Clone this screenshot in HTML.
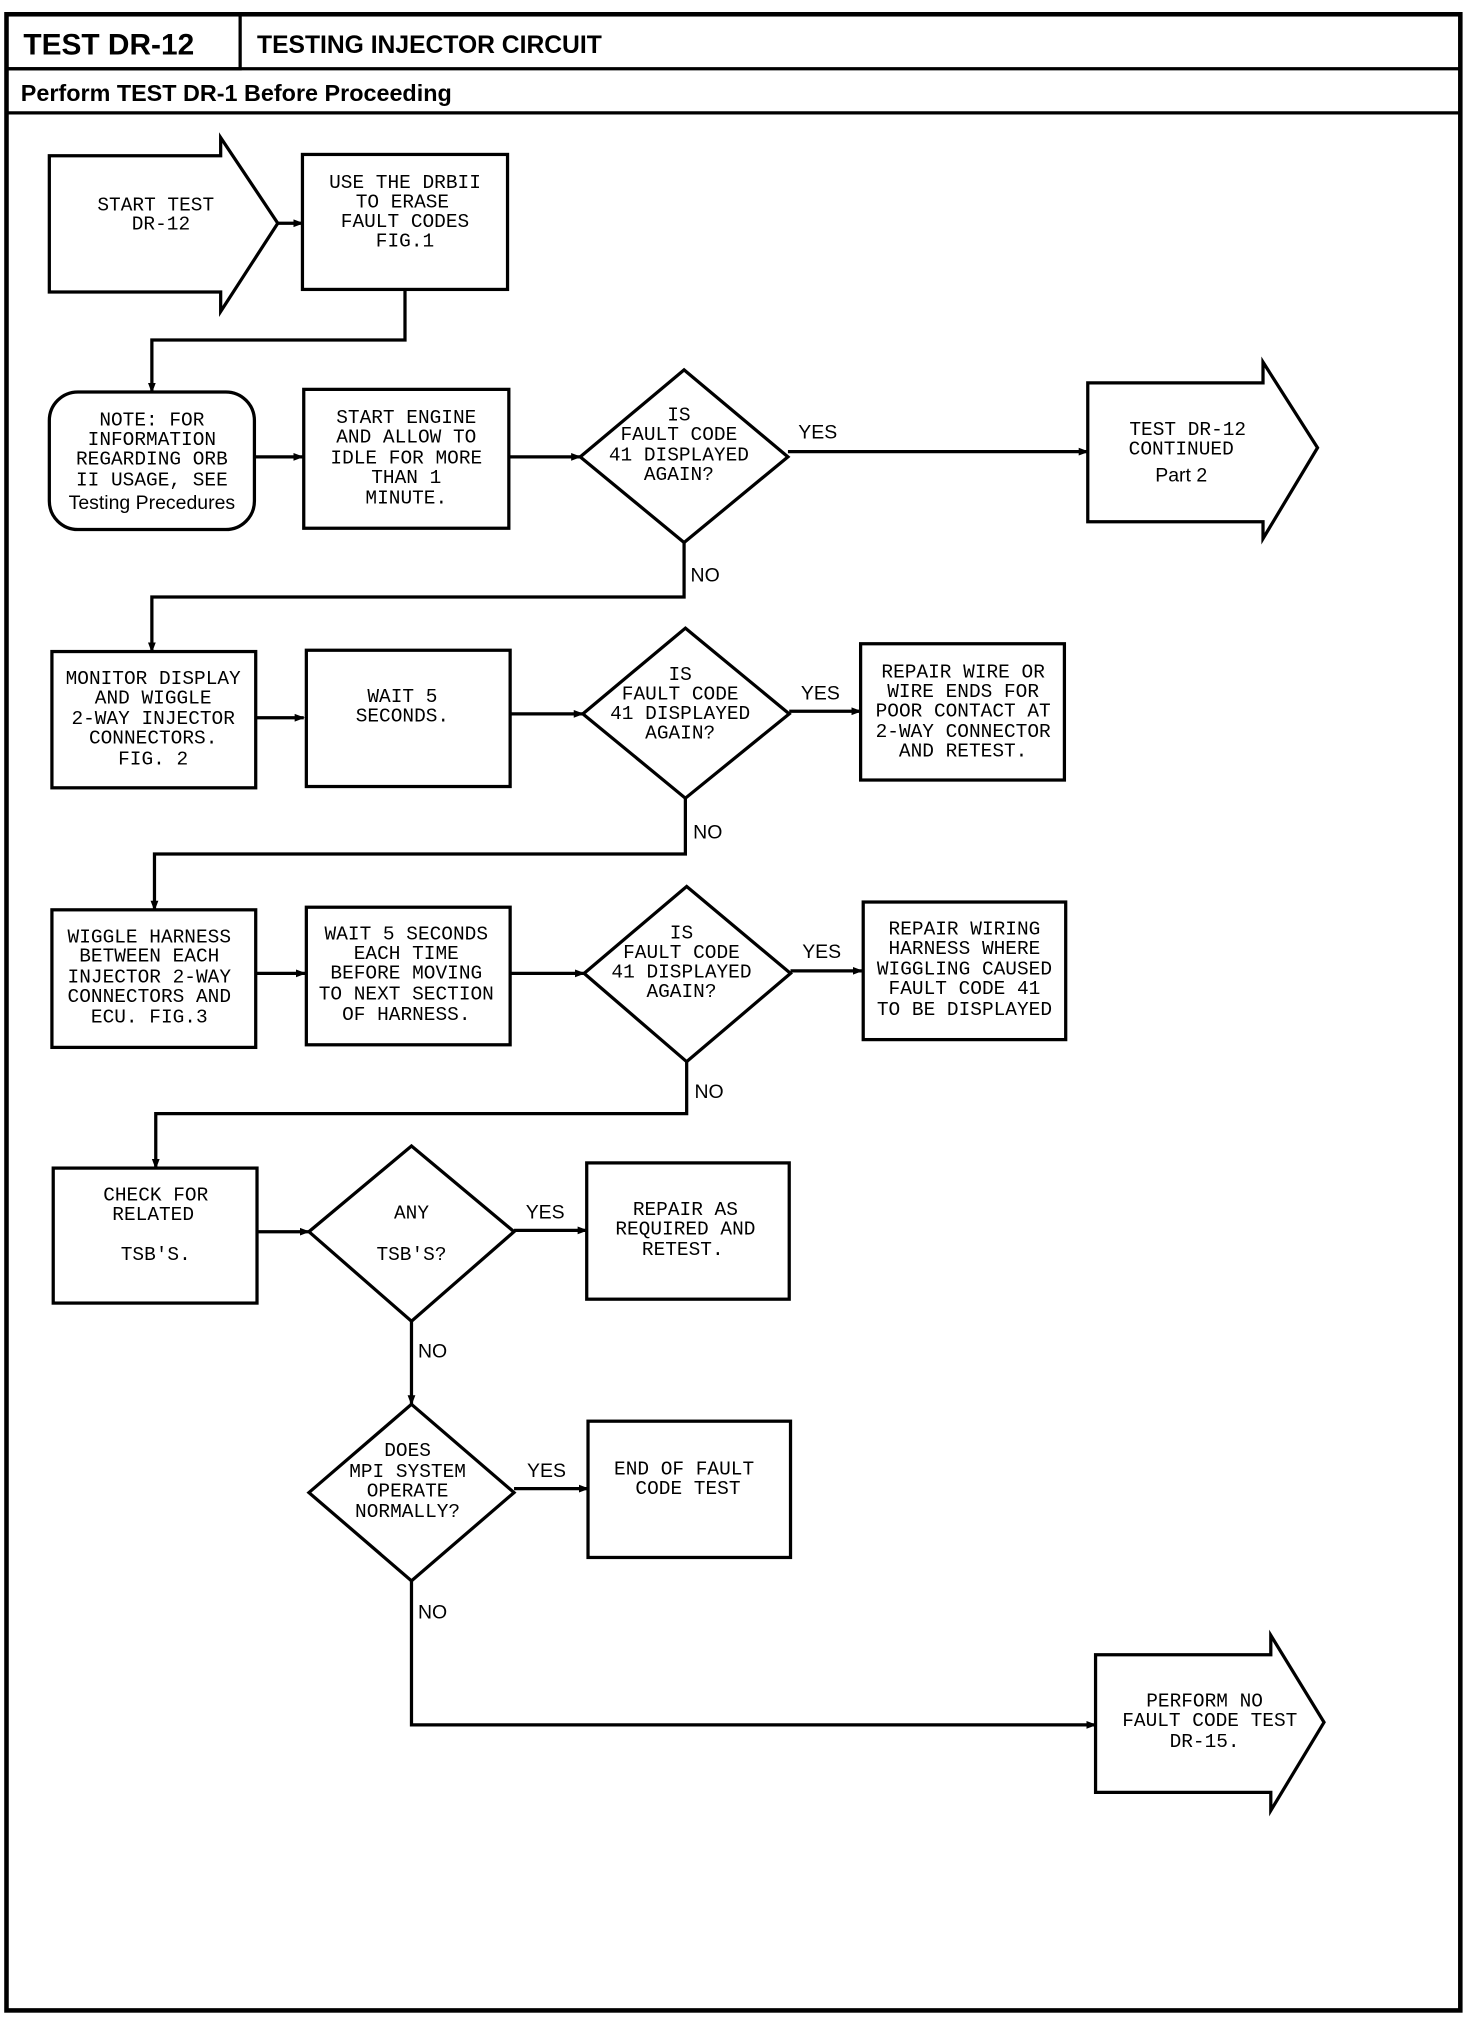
<!DOCTYPE html>
<html><head><meta charset="utf-8"><style>
html,body{margin:0;padding:0;background:#fff;}
svg{display:block;}
.m{font-family:"Liberation Mono",monospace;font-size:15px;text-anchor:middle;fill:#000;}
.s{font-family:"Liberation Sans",sans-serif;font-size:15px;text-anchor:middle;fill:#000;}
.l{font-family:"Liberation Sans",sans-serif;font-size:15px;fill:#000;}
.b{font-family:"Liberation Sans",sans-serif;font-weight:bold;fill:#000;}
</style></head><body>
<svg width="1472" height="2026" viewBox="0 0 1134 1561" preserveAspectRatio="none" xmlns="http://www.w3.org/2000/svg">
<defs><marker id="a" markerWidth="8" markerHeight="8" refX="7" refY="4" orient="auto" markerUnits="userSpaceOnUse"><path d="M0,1 L8,4 L0,7 z" fill="#000"/></marker></defs>
<g fill="none" stroke="#000" stroke-width="2.5">
<rect x="5" y="11" width="1120" height="1538" stroke-width="3.5"/>
<rect x="5" y="11" width="180" height="42"/>
<line x1="5" y1="53" x2="1125" y2="53"/>
<line x1="5" y1="87" x2="1125" y2="87"/>
<polygon points="38,120 170,120 170,106 214,172 170,240 170,225 38,225"/>
<rect x="233" y="119" width="158" height="104"/>
<line x1="214" y1="172" x2="233" y2="172" marker-end="url(#a)"/>
<polyline points="312,223 312,262 117,262 117,302" marker-end="url(#a)"/>
<rect x="38" y="302" width="158" height="106" rx="22"/>
<line x1="196" y1="352" x2="233" y2="352" marker-end="url(#a)"/>
<rect x="234" y="300" width="158" height="107"/>
<line x1="392" y1="352" x2="447" y2="352" marker-end="url(#a)"/>
<polygon points="527,285 607,352 527,418 447,352"/>
<line x1="607" y1="348" x2="838" y2="348" marker-end="url(#a)"/>
<polygon points="838,295 973,295 973,279 1015,345 973,415 973,402 838,402"/>
<polyline points="527,418 527,460 117,460 117,502" marker-end="url(#a)"/>
<rect x="40" y="502" width="157" height="105"/>
<line x1="197" y1="553" x2="234" y2="553" marker-end="url(#a)"/>
<rect x="236" y="501" width="157" height="105"/>
<line x1="393" y1="550" x2="449" y2="550" marker-end="url(#a)"/>
<polygon points="528,484 608,550 528,615 449,550"/>
<line x1="608" y1="548" x2="663" y2="548" marker-end="url(#a)"/>
<rect x="663" y="496" width="157" height="105"/>
<polyline points="528,615 528,658 119,658 119,701" marker-end="url(#a)"/>
<rect x="40" y="701" width="157" height="106"/>
<line x1="197" y1="750" x2="235" y2="750" marker-end="url(#a)"/>
<rect x="236" y="699" width="157" height="106"/>
<line x1="393" y1="750" x2="450" y2="750" marker-end="url(#a)"/>
<polygon points="529,683 609,750 529,818 450,750"/>
<line x1="609" y1="748" x2="664" y2="748" marker-end="url(#a)"/>
<rect x="665" y="695" width="156" height="106"/>
<polyline points="529,818 529,858 120,858 120,900" marker-end="url(#a)"/>
<rect x="41" y="900" width="157" height="104"/>
<line x1="198" y1="949" x2="238" y2="949" marker-end="url(#a)"/>
<polygon points="317,883 396,949 317,1018 238,949"/>
<line x1="396" y1="948" x2="452" y2="948" marker-end="url(#a)"/>
<rect x="452" y="896" width="156" height="105"/>
<line x1="317" y1="1018" x2="317" y2="1082" marker-end="url(#a)"/>
<polygon points="317,1082 396,1150 317,1218 238,1150"/>
<line x1="396" y1="1147" x2="453" y2="1147" marker-end="url(#a)"/>
<rect x="453" y="1095" width="156" height="105"/>
<polyline points="317,1218 317,1329 844,1329" marker-end="url(#a)"/>
<polygon points="844,1275 979,1275 979,1260 1020,1327 979,1395 979,1381 844,1381"/>
</g>
<text x="18" y="42" class="b" font-size="23">TEST DR-12</text>
<text x="198" y="41" class="b" font-size="19">TESTING INJECTOR CIRCUIT</text>
<text x="16" y="78" class="b" font-size="18">Perform TEST DR-1 Before Proceeding</text>

<text class="m" x="120" y="162">START TEST</text><text class="m" x="124" y="177">DR-12</text>
<text class="m" x="312" y="145">USE THE DRBII</text><text class="m" x="310" y="160">TO ERASE</text><text class="m" x="312" y="175">FAULT CODES</text><text class="m" x="312" y="190">FIG.1</text>
<text class="m" x="117" y="328">NOTE: FOR</text><text class="m" x="117" y="343">INFORMATION</text><text class="m" x="117" y="358">REGARDING ORB</text><text class="m" x="117" y="374">II USAGE, SEE</text><text class="s" x="117" y="392">Testing Precedures</text>
<text class="m" x="313" y="326">START ENGINE</text><text class="m" x="313" y="341">AND ALLOW TO</text><text class="m" x="313" y="357">IDLE FOR MORE</text><text class="m" x="313" y="372">THAN 1</text><text class="m" x="313" y="388">MINUTE.</text>
<text class="m" x="523" y="324">IS</text><text class="m" x="523" y="339">FAULT CODE</text><text class="m" x="523" y="355">41 DISPLAYED</text><text class="m" x="523" y="370">AGAIN?</text>
<text class="l" x="615" y="338">YES</text>
<text class="m" x="915" y="335">TEST DR-12</text><text class="m" x="910" y="350">CONTINUED</text><text class="s" x="910" y="371">Part  2</text>
<text class="l" x="532" y="448">NO</text>

<text class="m" x="118" y="527">MONITOR DISPLAY</text><text class="m" x="118" y="542">AND WIGGLE</text><text class="m" x="118" y="558">2-WAY INJECTOR</text><text class="m" x="118" y="573">CONNECTORS.</text><text class="m" x="118" y="589">FIG. 2</text>
<text class="m" x="310" y="541">WAIT 5</text><text class="m" x="310" y="556">SECONDS.</text>
<text class="m" x="524" y="524">IS</text><text class="m" x="524" y="539">FAULT CODE</text><text class="m" x="524" y="554">41 DISPLAYED</text><text class="m" x="524" y="569">AGAIN?</text>
<text class="l" x="617" y="539">YES</text>
<text class="m" x="742" y="522">REPAIR WIRE OR</text><text class="m" x="742" y="537">WIRE ENDS FOR</text><text class="m" x="742" y="552">POOR CONTACT AT</text><text class="m" x="742" y="568">2-WAY CONNECTOR</text><text class="m" x="742" y="583">AND RETEST.</text>
<text class="l" x="534" y="646">NO</text>

<text class="m" x="115" y="726">WIGGLE HARNESS</text><text class="m" x="115" y="741">BETWEEN EACH</text><text class="m" x="115" y="757">INJECTOR 2-WAY</text><text class="m" x="115" y="772">CONNECTORS AND</text><text class="m" x="115" y="788">ECU. FIG.3</text>
<text class="m" x="313" y="724">WAIT 5 SECONDS</text><text class="m" x="313" y="739">EACH TIME</text><text class="m" x="313" y="754">BEFORE MOVING</text><text class="m" x="313" y="770">TO NEXT SECTION</text><text class="m" x="313" y="786">OF HARNESS.</text>
<text class="m" x="525" y="723">IS</text><text class="m" x="525" y="738">FAULT CODE</text><text class="m" x="525" y="753">41 DISPLAYED</text><text class="m" x="525" y="768">AGAIN?</text>
<text class="l" x="618" y="738">YES</text>
<text class="m" x="743" y="720">REPAIR WIRING</text><text class="m" x="743" y="735">HARNESS WHERE</text><text class="m" x="743" y="751">WIGGLING CAUSED</text><text class="m" x="743" y="766">FAULT CODE 41</text><text class="m" x="743" y="782">TO BE DISPLAYED</text>
<text class="l" x="535" y="846">NO</text>

<text class="m" x="120" y="925">CHECK FOR</text><text class="m" x="118" y="940">RELATED</text><text class="m" x="120" y="971">TSB'S.</text>
<text class="m" x="317" y="939">ANY</text><text class="m" x="317" y="971">TSB'S?</text>
<text class="l" x="405" y="939">YES</text>
<text class="m" x="528" y="936">REPAIR AS</text><text class="m" x="528" y="951">REQUIRED AND</text><text class="m" x="526" y="967">RETEST.</text>
<text class="l" x="322" y="1046">NO</text>
<text class="m" x="314" y="1122">DOES</text><text class="m" x="314" y="1138">MPI SYSTEM</text><text class="m" x="314" y="1153">OPERATE</text><text class="m" x="314" y="1169">NORMALLY?</text>
<text class="l" x="406" y="1138">YES</text>
<text class="m" x="527" y="1136">END OF FAULT</text><text class="m" x="530" y="1151">CODE TEST</text>
<text class="l" x="322" y="1247">NO</text>
<text class="m" x="928" y="1315">PERFORM NO</text><text class="m" x="932" y="1330">FAULT CODE TEST</text><text class="m" x="928" y="1346">DR-15.</text>
</svg>
</body></html>
